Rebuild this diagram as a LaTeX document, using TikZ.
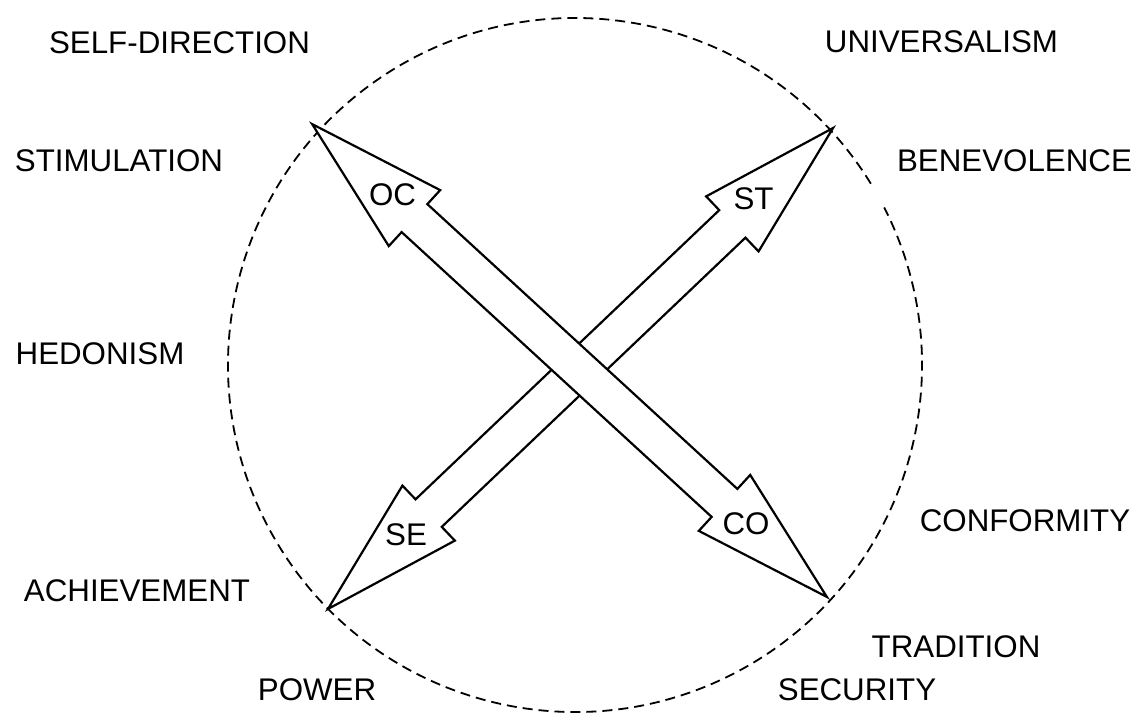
\documentclass[tikz,border=0pt]{standalone}
\usepackage{fontspec}
\setmainfont{Liberation Sans}
\begin{document}
\begin{tikzpicture}[x=1pt,y=-1pt,
  lbl/.style={inner sep=0pt, font=\fontsize{31.3}{36}\selectfont},
  ring/.style={line width=1.8pt, dash pattern=on 10pt off 6pt},
  arrowbox/.style={draw=black, fill=white, line width=2.2pt, line join=miter, miter limit=20}]
\useasboundingbox (0,0) rectangle (1141,713);
\fill[white] (0,0) rectangle (1141,713);

% dashed ring, left open for a short stretch on the upper right
\begin{scope}[shift={(575,365)}, y=1pt]
  \draw[ring] (31.5:347) arc[start angle=31.5, end angle=387, radius=347];
\end{scope}

% double arrow ST -- SE (lower one)
\begin{scope}[shift={(580.5,368.5)}, rotate=43.6]
  \draw[arrowbox] (348.7,0) -- (209.7,38) -- (209.7,19) -- (-209.7,19) -- (-209.7,38)
    -- (-348.7,0) -- (-209.7,-38) -- (-209.7,-19) -- (209.7,-19) -- (209.7,-38) -- cycle;
\end{scope}

% double arrow OC -- CO (upper one)
\begin{scope}[shift={(569.5,360.5)}, rotate=-42.57]
  \draw[arrowbox] (349.5,0) -- (210.5,38) -- (210.5,19) -- (-210.5,19) -- (-210.5,38)
    -- (-349.5,0) -- (-210.5,-38) -- (-210.5,-19) -- (210.5,-19) -- (210.5,-38) -- cycle;
\end{scope}

% labels inside the arrow heads
\node[lbl] (oc) at (392.5,195) {OC};
\node[lbl] (st) at (753.5,198.5) {ST};
\node[lbl] (se) at (406,534.5) {SE};
\node[lbl] (co) at (746,524) {CO};

% value labels around the ring
\node[lbl] (selfdir) at (179.5,42.5) {SELF-DIRECTION};
\node[lbl] (univ) at (941.5,42) {UNIVERSALISM};
\node[lbl] (stim) at (119,161) {STIMULATION};
\node[lbl] (bene) at (1014.5,161) {BENEVOLENCE};
\node[lbl] (hedo) at (100,354) {HEDONISM};
\node[lbl] (conf) at (1025,521) {CONFORMITY};
\node[lbl] (achi) at (137,591) {ACHIEVEMENT};
\node[lbl] (trad) at (956,647) {TRADITION};
\node[lbl] (powe) at (317,690) {POWER};
\node[lbl] (secu) at (857,690) {SECURITY};
\end{tikzpicture}
\end{document}
